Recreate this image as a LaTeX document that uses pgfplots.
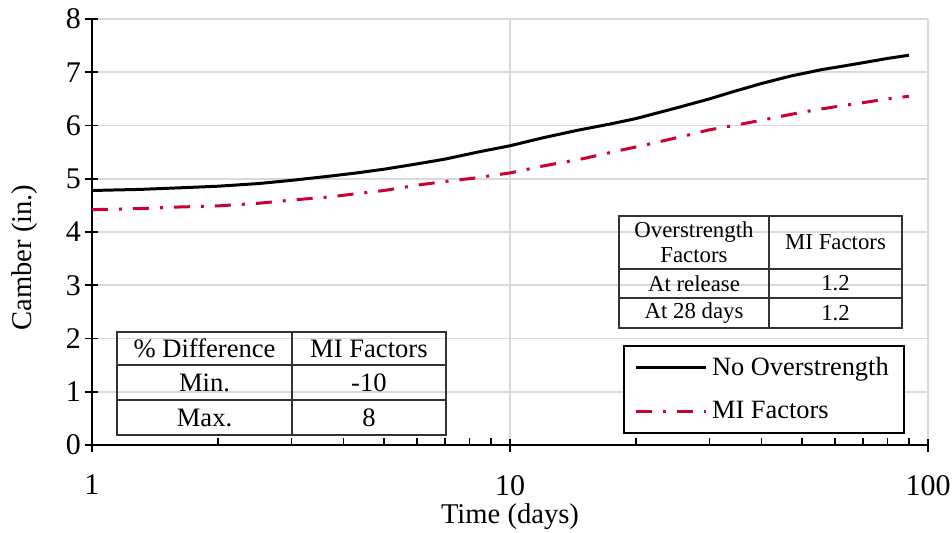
\documentclass[border=0pt]{standalone}
\usepackage{fontspec}
\setmainfont{Liberation Serif}
\usepackage{pgfplots}
\pgfplotsset{compat=1.18}
\definecolor{gridgray}{RGB}{217,217,217}
\definecolor{crim}{RGB}{204,0,51}
\begin{document}
\begin{tikzpicture}
\begin{axis}[
  at={(0,0)}, anchor=south west,
  scale only axis, width=418pt, height=213pt,
  xmode=log, xmin=1, xmax=100, ymin=0, ymax=8,
  log basis x=10,
  xtick={1,10,100}, xticklabels={1,10,100},
  minor xtick={2,3,4,5,6,7,8,9,20,30,40,50,60,70,80,90},
  ytick={0,1,2,3,4,5,6,7,8},
  axis lines=left, axis line style={-, line width=1pt, black},
  xmajorgrids, ymajorgrids, xminorgrids=false,
  major grid style={gridgray, line width=0.8pt},
  tick style={black, line width=0.8pt},
  tick align=inside,
  major tick length=6.5pt, minor tick length=3.5pt,
  major x tick style={yshift=-3.25pt},
  major y tick style={xshift=-3.25pt},
  yticklabel style={xshift=-2pt},
  xticklabel style={yshift=-11.5pt},
  /pgf/number format/assume math mode=true,
  ticklabel style={font=\fontsize{15}{17}\selectfont},
  label style={font=\fontsize{14.3}{16}\selectfont},
  xlabel={Time (days)},
  ylabel={Camber (in.)},
  xlabel style={at={(axis description cs:0.5,-0.168)}, anchor=center},
  ylabel style={at={(axis description cs:-0.080,0.44)}, anchor=center},
  legend style={at={(rel axis cs:0.6352,0.2347)}, anchor=north west,
    draw=black, line width=1pt, inner xsep=5pt, inner ysep=3pt,
    font=\fontsize{13.2}{15}\selectfont, row sep=6.5pt,
    nodes={inner sep=2.5pt}},
  legend cell align=left,
  legend image code/.code={\draw[#1] (0pt,0pt) -- (35pt,0pt);},
]
\addplot[black, line width=1.5pt] coordinates {
(1,4.78) (1.3,4.80) (1.62,4.83) (2,4.86) (2.5,4.91) (3,4.97) (3.71,5.05) (4.3,5.11) (5,5.18) (6,5.28) (7,5.37) (8.48,5.51) (10,5.62) (12,5.77) (14.5,5.91) (17.4,6.03) (20,6.13) (25,6.33) (30,6.50) (34,6.63) (40,6.79) (47,6.93) (55.7,7.05) (62,7.11) (70,7.18) (80,7.26) (90,7.32)
};
\addlegendentry{No Overstrength}
\addplot[crim, line width=1.5pt, dash pattern=on 8pt off 5.5pt on 1.5pt off 5.5pt] coordinates {
(1,4.42) (1.3,4.44) (1.62,4.47) (2,4.49) (2.5,4.54) (3,4.60) (3.71,4.66) (4.3,4.72) (5,4.78) (6,4.88) (7,4.95) (8.16,5.01) (10,5.11) (12,5.24) (15,5.38) (18,5.52) (21.2,5.64) (26,5.80) (30,5.92) (33.8,5.99) (40,6.10) (47,6.21) (53.5,6.29) (62,6.37) (70,6.43) (80,6.50) (90,6.55)
};
\addlegendentry{MI Factors}
% Top-right table
\draw[line width=0.75pt, black!80] (rel axis cs:0.6304,0.5376) rectangle (rel axis cs:0.9689,0.2746);
\draw[line width=0.75pt, black!80] (rel axis cs:0.8098,0.5376) -- (rel axis cs:0.8098,0.2746);
\draw[line width=0.75pt, black!80] (rel axis cs:0.6304,0.4131) -- (rel axis cs:0.9689,0.4131);
\draw[line width=0.75pt, black!80] (rel axis cs:0.6304,0.3451) -- (rel axis cs:0.9689,0.3451);
\begin{scope}[every node/.style={font=\fontsize{11.4}{12.4}\selectfont, anchor=center, inner sep=0pt}]
\node[align=center] at (rel axis cs:0.7201,0.4754) {Overstrength\\Factors};
\node at (rel axis cs:0.8894,0.4754) {MI Factors};
\node at (rel axis cs:0.7201,0.3791) {At release};
\node at (rel axis cs:0.8894,0.3791) {1.2};
\node at (rel axis cs:0.7201,0.3099) {At 28 days};
\node at (rel axis cs:0.8894,0.3099) {1.2};
\end{scope}
% Bottom-left table
\draw[line width=0.75pt, black!80] (rel axis cs:0.0299,0.2653) rectangle (rel axis cs:0.4234,0.0235);
\draw[line width=0.75pt, black!80] (rel axis cs:0.2392,0.2653) -- (rel axis cs:0.2392,0.0235);
\draw[line width=0.75pt, black!80] (rel axis cs:0.0299,0.1878) -- (rel axis cs:0.4234,0.1878);
\draw[line width=0.75pt, black!80] (rel axis cs:0.0299,0.1056) -- (rel axis cs:0.4234,0.1056);
\begin{scope}[every node/.style={font=\fontsize{13.3}{15}\selectfont, anchor=center, inner sep=0pt}]
\node at (rel axis cs:0.1346,0.2265) {\% Difference};
\node at (rel axis cs:0.3313,0.2265) {MI Factors};
\node at (rel axis cs:0.1346,0.1467) {Min.};
\node at (rel axis cs:0.3313,0.1467) {-10};
\node at (rel axis cs:0.1346,0.0646) {Max.};
\node at (rel axis cs:0.3313,0.0646) {8};
\end{scope}
\end{axis}
\pgfresetboundingbox
\path[use as bounding box] (-46pt,-43.5pt) rectangle (430pt,222.5pt);
\end{tikzpicture}
\end{document}
